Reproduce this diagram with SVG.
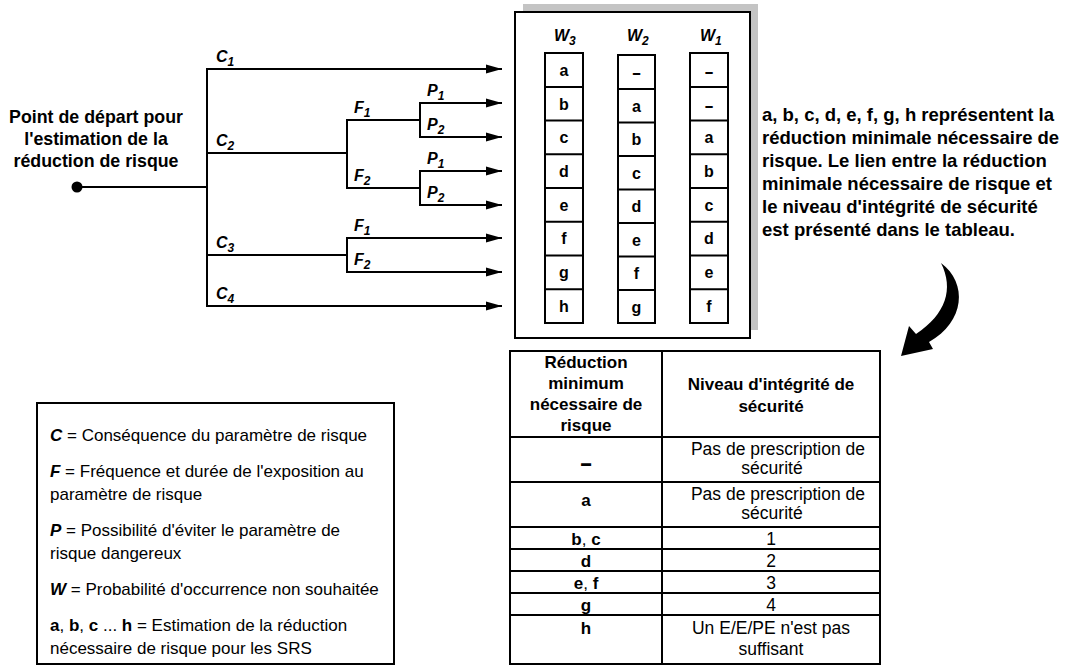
<svg xmlns="http://www.w3.org/2000/svg" width="1069" height="671" viewBox="0 0 1069 671">
<defs>
<style>
.ln{stroke:#000;stroke-width:2;fill:none}
.bx{stroke:#000;stroke-width:2;fill:#fff}
.t{font-family:"Liberation Sans",Arial,sans-serif;fill:#000}
.b{font-weight:bold}
.bi{font-weight:bold;font-style:italic}
.lab{font-family:"Liberation Sans",Arial,sans-serif;font-weight:bold;font-style:italic;font-size:16px}
.sub{font-size:12px}
.cell{font-family:"Liberation Sans",Arial,sans-serif;font-weight:bold;font-size:16px;text-anchor:middle}
.c{text-anchor:middle}
</style>
<marker id="ah" markerUnits="userSpaceOnUse" markerWidth="17" markerHeight="10" refX="16" refY="5" orient="auto">
<path d="M0,0.5 L16,5 L0,9.5 Z" fill="#000"/>
</marker>
</defs>
<rect width="1069" height="671" fill="#fff"/>

<g id="connectors">
<line class="ln" x1="77" y1="187" x2="207" y2="187"/>
<line class="ln" x1="207" y1="69" x2="207" y2="306"/>
<line class="ln" x1="206" y1="69" x2="502" y2="69" marker-end="url(#ah)"/>
<line class="ln" x1="207" y1="153" x2="347" y2="153"/>
<line class="ln" x1="347" y1="120" x2="347" y2="188"/>
<line class="ln" x1="346" y1="120" x2="420" y2="120"/>
<line class="ln" x1="420" y1="103" x2="420" y2="137"/>
<line class="ln" x1="419" y1="103" x2="502" y2="103" marker-end="url(#ah)"/>
<line class="ln" x1="419" y1="137" x2="502" y2="137" marker-end="url(#ah)"/>
<line class="ln" x1="346" y1="188" x2="420" y2="188"/>
<line class="ln" x1="420" y1="171" x2="420" y2="205"/>
<line class="ln" x1="419" y1="171" x2="502" y2="171" marker-end="url(#ah)"/>
<line class="ln" x1="419" y1="205" x2="502" y2="205" marker-end="url(#ah)"/>
<line class="ln" x1="207" y1="255" x2="347" y2="255"/>
<line class="ln" x1="347" y1="238" x2="347" y2="272"/>
<line class="ln" x1="346" y1="238" x2="502" y2="238" marker-end="url(#ah)"/>
<line class="ln" x1="346" y1="272" x2="502" y2="272" marker-end="url(#ah)"/>
<line class="ln" x1="206" y1="306" x2="502" y2="306" marker-end="url(#ah)"/>
<text class="lab" x="216" y="62">C<tspan class="sub" dy="4">1</tspan></text>
<text class="lab" x="216" y="146">C<tspan class="sub" dy="4">2</tspan></text>
<text class="lab" x="216" y="248">C<tspan class="sub" dy="4">3</tspan></text>
<text class="lab" x="216" y="299">C<tspan class="sub" dy="4">4</tspan></text>
<text class="lab" x="354" y="113">F<tspan class="sub" dy="4">1</tspan></text>
<text class="lab" x="354" y="181">F<tspan class="sub" dy="4">2</tspan></text>
<text class="lab" x="354" y="231">F<tspan class="sub" dy="4">1</tspan></text>
<text class="lab" x="354" y="265">F<tspan class="sub" dy="4">2</tspan></text>
<text class="lab" x="427" y="96">P<tspan class="sub" dy="4">1</tspan></text>
<text class="lab" x="427" y="130">P<tspan class="sub" dy="4">2</tspan></text>
<text class="lab" x="427" y="164">P<tspan class="sub" dy="4">1</tspan></text>
<text class="lab" x="427" y="198">P<tspan class="sub" dy="4">2</tspan></text>
</g>

<g id="start">
<circle cx="77" cy="187" r="5.5" fill="#000"/>
<text class="t b c" font-size="17.8" x="96" y="123">Point de départ pour</text>
<text class="t b c" font-size="17.8" x="96" y="145">l'estimation de la</text>
<text class="t b c" font-size="17.8" x="96" y="167">réduction de risque</text>
</g>

<g id="wtable">
<rect x="523" y="4" width="235" height="326" fill="#c4c4c4"/>
<rect class="bx" x="515" y="12" width="235" height="326"/>
<text class="lab" x="554" y="41">W<tspan class="sub" dy="4">3</tspan></text>
<text class="lab" x="627" y="41">W<tspan class="sub" dy="4">2</tspan></text>
<text class="lab" x="700" y="41">W<tspan class="sub" dy="4">1</tspan></text>
<g id="colW3">
<rect class="bx" x="545" y="53" width="38" height="270"/>
<path class="ln" d="M545 87H583M545 120.5H583M545 154.3H583M545 188H583M545 221.8H583M545 255.5H583M545 289.3H583"/>
<text class="cell" x="564" y="76">a</text>
<text class="cell" x="564" y="110">b</text>
<text class="cell" x="564" y="143">c</text>
<text class="cell" x="564" y="177">d</text>
<text class="cell" x="564" y="211">e</text>
<text class="cell" x="564" y="244">f</text>
<text class="cell" x="564" y="278">g</text>
<text class="cell" x="564" y="312">h</text>
</g>
<g id="colW2">
<rect class="bx" x="618" y="55" width="37" height="268"/>
<path class="ln" d="M618 89H655M618 122.5H655M618 156H655M618 189.5H655M618 223H655M618 256.5H655M618 290H655"/>
<text class="cell" font-size="22" transform="translate(636.5,78) scale(1.8,1)">-</text>
<text class="cell" x="636.5" y="112">a</text>
<text class="cell" x="636.5" y="145">b</text>
<text class="cell" x="636.5" y="179">c</text>
<text class="cell" x="636.5" y="212">d</text>
<text class="cell" x="636.5" y="246">e</text>
<text class="cell" x="636.5" y="279">f</text>
<text class="cell" x="636.5" y="313">g</text>
</g>
<g id="colW1">
<rect class="bx" x="690" y="53" width="38" height="270"/>
<path class="ln" d="M690 87H728M690 120.5H728M690 154.3H728M690 188H728M690 221.8H728M690 255.5H728M690 289.3H728"/>
<text class="cell" font-size="22" transform="translate(709,77) scale(1.8,1)">-</text>
<text class="cell" font-size="22" transform="translate(709,111) scale(1.8,1)">-</text>
<text class="cell" x="709" y="143">a</text>
<text class="cell" x="709" y="177">b</text>
<text class="cell" x="709" y="211">c</text>
<text class="cell" x="709" y="244">d</text>
<text class="cell" x="709" y="278">e</text>
<text class="cell" x="709" y="312">f</text>
</g>
</g>

<g id="note">
<text class="t b" font-size="18.5" x="762" y="121">a, b, c, d, e, f, g, h représentent la</text>
<text class="t b" font-size="18.5" x="762" y="144">réduction minimale nécessaire de</text>
<text class="t b" font-size="18.5" x="762" y="167">risque. Le lien entre la réduction</text>
<text class="t b" font-size="18.5" x="762" y="190">minimale nécessaire de risque et</text>
<text class="t b" font-size="18.5" x="762" y="213">le niveau d'intégrité de sécurité</text>
<text class="t b" font-size="18.5" x="762" y="236">est présenté dans le tableau.</text>
</g>

<g id="curved-arrow">
<path d="M941 263 C968 283 965 322 929 342 L933 349 L901 356 L909 326 L916 334 C946 314 954 289 941 263 Z" fill="#000"/>
</g>

<g id="sil-table">
<rect class="bx" x="510" y="351" width="370" height="313"/>
<path class="ln" d="M662 351V664M510 437H880M510 482H880M510 527H880M510 549H880M510 571H880M510 593H880M510 615H880"/>
<g class="t b c" font-size="17">
<text x="586" y="368">Réduction</text>
<text x="586" y="389">minimum</text>
<text x="586" y="410">nécessaire de</text>
<text x="586" y="431">risque</text>
<text x="771" y="390">Niveau d'intégrité de</text>
<text x="771" y="412">sécurité</text>
<text font-size="22" transform="translate(586,470) scale(1.8,1)">-</text>
<text x="586" y="506">a</text>
<text x="586" y="545">b<tspan font-weight="normal">,</tspan> c</text>
<text x="586" y="567">d</text>
<text x="586" y="589">e<tspan font-weight="normal">,</tspan> f</text>
<text x="586" y="611">g</text>
<text x="586" y="634">h</text>
</g>
<g class="t c" font-size="17.5">
<text x="778" y="455">Pas de prescription de</text>
<text x="772" y="474">sécurité</text>
<text x="778" y="500">Pas de prescription de</text>
<text x="772" y="519">sécurité</text>
<text x="771" y="545">1</text>
<text x="771" y="567">2</text>
<text x="771" y="589">3</text>
<text x="771" y="611">4</text>
<text x="771" y="634">Un E/E/PE n'est pas</text>
<text x="771" y="655">suffisant</text>
</g>
</g>

<g id="legend">
<rect class="bx" x="37" y="403" width="357" height="261"/>
<g class="t" font-size="17">
<text x="50" y="441"><tspan class="bi">C</tspan> = Conséquence du paramètre de risque</text>
<text x="50" y="477"><tspan class="bi">F</tspan> = Fréquence et durée de l'exposition au</text>
<text x="50" y="500">paramètre de risque</text>
<text x="50" y="536"><tspan class="bi">P</tspan> = Possibilité d'éviter le paramètre de</text>
<text x="50" y="559">risque dangereux</text>
<text x="50" y="595"><tspan class="bi">W</tspan> = Probabilité d'occurrence non souhaitée</text>
<text x="50" y="631"><tspan class="b">a</tspan>, <tspan class="b">b</tspan>, <tspan class="b">c</tspan> ... <tspan class="b">h</tspan> = Estimation de la réduction</text>
<text x="50" y="654">nécessaire de risque pour les SRS</text>
</g>
</g>
</svg>
